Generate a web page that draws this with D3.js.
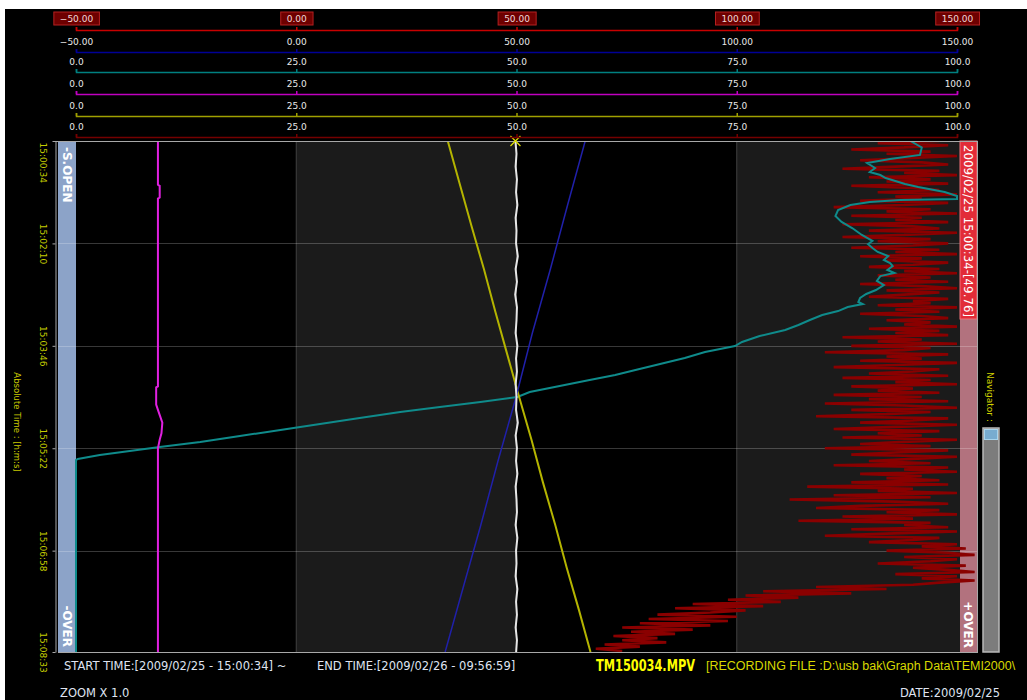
<!DOCTYPE html>
<html><head><meta charset="utf-8">
<script src="https://cdn.jsdelivr.net/npm/d3@7"></script>
<style>
body{margin:0;background:#fff;}
svg{display:block}
</style></head><body>
<svg id="c" width="1027" height="700"></svg>
<script>
// ---------------- DATA ----------------
const startDate = "2009/02/25";
const timeTickSeconds = [0, 96, 192, 288, 384, 479];
const timeTickLabels = ["15:00:34", "15:02:10", "15:03:46", "15:05:22", "15:06:58", "15:08:33"];
const ticksWide = [-50, 0, 50, 100, 150];
const ticksPct = [0, 25, 50, 75, 100];

// CH1 (white, selected, -50..150) sampled every 12 s
const whiteTime = [0,12,24,36,48,60,72,84,96,108,120,132,144,156,168,180,192,204,216,228,240,252,264,276,288,300,312,324,336,348,360,372,384,396,408,420,432,444,456,468,480];
const whiteValue = [49.76,50.0,49.8,50.1,49.9,50.2,49.8,50.0,49.9,50.3,49.8,50.1,49.7,50.1,50.0,49.8,50.2,49.9,50.1,49.8,50.0,49.9,50.3,49.8,50.1,49.9,50.2,49.8,50.0,50.1,49.8,50.2,49.9,50.0,49.8,50.2,49.9,50.1,49.8,50.1,49.9];

// CH2 (blue, -50..150)
const blueTime = [0, 60, 120, 180, 240, 300, 360, 420, 479];
const blueValue = [65.6, 61.6, 57.7, 53.6, 49.9, 45.8, 41.9, 37.8, 33.8];

// CH3 (teal, 0..100)
const tealTime = [0,6,13.1,16.9,20.6,25.3,29.1,31.9,34.7,37.5,40.3,43.1,47.8,51.6,54.4,55.3,57.2,60.0,64.7,70.3,75.9,81.6,88.1,93.7,96.6,100.3,104.0,107.8,111.5,114.4,117.2,120.9,123.7,126.6,131.2,135.0,139.7,143.4,147.2,150.9,152.8,155.6,159.4,163.1,167.8,172.5,177.2,182.8,188.4,192.2,197.8,203.4,209.0,214.7,219.3,224.0,229.7,235.3,240.0,244.7,249.4,254.0,259.7,265.3,270.9,276.5,282.2,286.8,290.6,294.3,298.1,299.0,300,479];
const tealValue = [94.7,96.0,95.8,92.4,89.8,90.7,90.1,91.3,91.9,93.0,94.1,95.6,98.6,101.5,101.0,93.5,90.1,87.9,86.5,86.2,86.9,88.1,89.2,90.4,89.9,90.4,91.0,92.2,91.7,92.4,92.7,92.1,92.9,91.3,90.9,91.7,90.8,89.7,89.0,88.8,89.3,87.6,86.5,84.7,83.3,82.0,80.5,77.6,75.6,74.8,71.4,69.1,66.3,63.5,61.2,58.3,54.9,51.5,50.1,45.9,41.3,36.8,32.2,27.7,23.2,18.6,14.1,9.5,6.1,2.7,0.2,-0.5,-3,-3];

// CH4 (magenta, 0..100)
const magentaTime = [0, 41, 42, 53, 54, 230, 231, 247, 252, 264, 274, 280, 288, 479];
const magentaValue = [9.3, 9.3, 9.5, 9.5, 9.3, 9.3, 9.1, 9.1, 9.3, 9.8, 9.7, 9.5, 9.3, 9.3];

// CH5 (yellow, 0..100)
const yellowTime = [0, 40, 80, 120, 160, 200, 240, 280, 320, 360, 400, 440, 479];
const yellowValue = [42.2, 43.55, 44.9, 46.3, 47.6, 48.95, 50.3, 51.7, 53.0, 54.4, 55.7, 57.1, 58.4];

// CH6 (dark red, 0..100) sampled every 2 s
const redValue = [
 98,91,99,94,88,97,92,100,95,89,96,99,93,87,98,94,100,90,97,92,99,88,95,98,91,100,93,96,
 89,99,94,86,97,92,100,88,96,93,99,87,95,98,90,100,94,87,97,91,99,95,88,98,93,100,89,96,
 92,99,95,90,98,94,100,91,97,93,99,89,96,100,92,98,94,90,99,95,97,91,100,93,98,89,96,99,92,97,94,100,90,98,
 93,99,87,96,91,100,88,97,94,85,99,92,96,89,100,93,86,98,95,90,99,87,97,93,100,88,95,91,98,86,
 96,90,99,85,94,100,88,97,92,84,99,95,89,100,93,86,98,91,96,87,100,94,89,97,85,
 99,93,88,100,95,90,97,86,99,94,100,89,96,92,98,
 88,99,83,95,91,100,86,97,81,93,99,89,84,98,92,100,87,95,82,97,
 94,99,88,100,92,85,98,95,90,100,
 96,101,92,99,102,94,100,97,91,101,95,99,102,93,100,96,102,98,
 95,84,92,78,88,76,
 82,74,80,70,78,68,76,72,66,75,65,
 74,64,72,62,70,63,68,61,66,62,67,60,64,59,62
];
const redStep = 2;

// ---------------- DRAW ----------------
const svg = d3.select('#c');
const W = 1027, H = 700;
const FONT = "DejaVu Sans, Verdana, sans-serif";
svg.append('rect').attr('x', 5).attr('y', 9).attr('width', W - 5).attr('height', H - 9).attr('fill', '#000');

const plotL = 58, plotR = 977, dataL = 76, dataR = 957, plotT = 141, plotB = 652;
const xWide = d3.scaleLinear().domain([-50, 150]).range([dataL, dataR]);
const xPct = d3.scaleLinear().domain([0, 100]).range([dataL, dataR]);
const xPctClamp = xPct.copy().clamp(true);
const yT = d3.scaleLinear().domain([0, 479]).range([plotT, plotB]);

// background bands
for (let i = 0; i < ticksWide.length - 1; i++) {
  const x0 = xWide(ticksWide[i]);
  const x1 = i === ticksWide.length - 2 ? 960 : xWide(ticksWide[i + 1]);
  svg.append('rect').attr('x', x0).attr('y', plotT).attr('width', x1 - x0).attr('height', plotB - plotT)
    .attr('fill', i % 2 ? '#1b1b1b' : '#000');
}
svg.append('rect').attr('x', plotL).attr('y', plotT).attr('width', dataL - plotL).attr('height', plotB - plotT).attr('fill', '#8ca3c8');
svg.append('rect').attr('x', 960).attr('y', plotT).attr('width', plotR - 960).attr('height', plotB - plotT).attr('fill', '#b2727e');

// grid
ticksWide.slice(1, -1).forEach(v => {
  svg.append('line').attr('x1', xWide(v)).attr('x2', xWide(v)).attr('y1', plotT).attr('y2', plotB)
    .attr('stroke', '#404040').attr('stroke-width', 1);
});
timeTickSeconds.slice(1, -1).forEach(t => {
  svg.append('line').attr('x1', plotL).attr('x2', plotR).attr('y1', Math.round(yT(t)) + 0.5).attr('y2', Math.round(yT(t)) + 0.5)
    .attr('stroke', 'rgba(255,255,255,0.22)').attr('stroke-width', 1);
});

// series
svg.append('clipPath').attr('id', 'pc').append('rect')
  .attr('x', dataL - 1).attr('y', plotT).attr('width', plotR - dataL + 1).attr('height', plotB - plotT);
const series = svg.append('g').attr('clip-path', 'url(#pc)');
function path(ts, vs, xs) {
  return d3.line().x((d, i) => xs(vs[i])).y((d, i) => yT(ts[i]))(ts);
}
const redTime = redValue.map((d, i) => i * redStep);
series.append('path').attr('d', path(redTime, redValue, xPct)).attr('fill', 'none').attr('stroke', '#8a0000').attr('stroke-width', 2.6).attr('stroke-linejoin', 'bevel');
series.append('path').attr('d', path(tealTime, tealValue, xPctClamp)).attr('fill', 'none').attr('stroke', '#0f8b8b').attr('stroke-width', 2);
series.append('path').attr('d', path(magentaTime, magentaValue, xPct)).attr('fill', 'none').attr('stroke', '#e020e0').attr('stroke-width', 2);
series.append('path').attr('d', path(yellowTime, yellowValue, xPct)).attr('fill', 'none').attr('stroke', '#b4b400').attr('stroke-width', 2);
series.append('path').attr('d', path(blueTime, blueValue, xWide)).attr('fill', 'none').attr('stroke', '#2020aa').attr('stroke-width', 1.5);
series.append('path').attr('d', path(whiteTime, whiteValue, xWide)).attr('fill', 'none').attr('stroke', '#e6e6e6').attr('stroke-width', 2);

// band texts
function vtext(x, y, txt, opts) {
  const t = svg.append('text').attr('transform', `translate(${x},${y}) rotate(90)`).attr('dy', '0.36em')
    .attr('font-family', FONT).attr('font-size', opts.size || 12).attr('fill', opts.fill || '#fff')
    .attr('font-weight', opts.weight || 'normal').attr('text-anchor', opts.anchor || 'start').text(txt);
  if (opts.len) t.attr('textLength', opts.len).attr('lengthAdjust', 'spacingAndGlyphs');
  return t;
}
vtext(67, 147, '-S.OPEN', {weight: 'bold', size: 12});
vtext(67, 647, '-OVER', {weight: 'bold', size: 12, anchor: 'end'});
vtext(968.5, 648, '+OVER', {weight: 'bold', size: 12, anchor: 'end'});
svg.append('rect').attr('x', 960).attr('y', plotT).attr('width', 17).attr('height', 178)
  .attr('fill', '#e22c38').attr('stroke', '#f07078').attr('stroke-width', 1);
vtext(968.5, 145, `${startDate} ${timeTickLabels[0]}-[${whiteValue[0].toFixed(2)}]`, {size: 12, len: 172, fill: '#fff'});

// plot borders
svg.append('line').attr('x1', 55).attr('x2', plotR + 1).attr('y1', plotT + 0.5).attr('y2', plotT + 0.5).attr('stroke', '#a8a8a8');
svg.append('line').attr('x1', plotL).attr('x2', plotR + 1).attr('y1', plotB + 0.5).attr('y2', plotB + 0.5).attr('stroke', '#a8a8a8');
svg.append('line').attr('x1', plotR + 0.5).attr('x2', plotR + 0.5).attr('y1', plotT).attr('y2', plotB).attr('stroke', '#a8a8a8');

// cursor marker
const cx = xWide(whiteValue[0]);
svg.append('path').attr('d', `M${cx - 5},${plotT - 5}L${cx + 5},${plotT + 5}M${cx + 5},${plotT - 5}L${cx - 5},${plotT + 5}`)
  .attr('stroke', '#e0e000').attr('stroke-width', 1.2).attr('fill', 'none');

// top axes
const axisRows = [
  {scale: xWide, ticks: ticksWide, fmt: '.2f', color: '#c80000', y: 30, boxed: true},
  {scale: xWide, ticks: ticksWide, fmt: '.2f', color: '#000096', y: 52},
  {scale: xPct, ticks: ticksPct, fmt: '.1f', color: '#008080', y: 72},
  {scale: xPct, ticks: ticksPct, fmt: '.1f', color: '#c000c0', y: 94},
  {scale: xPct, ticks: ticksPct, fmt: '.1f', color: '#a0a000', y: 116},
  {scale: xPct, ticks: ticksPct, fmt: '.1f', color: '#740000', y: 137}
];
axisRows.forEach(r => {
  const g = svg.append('g').attr('transform', `translate(0,${r.y})`)
    .call(d3.axisTop(r.scale).tickValues(r.ticks).tickFormat(d3.format(r.fmt)).tickSizeInner(3).tickSizeOuter(3).tickPadding(5));
  g.attr('font-family', FONT).attr('font-size', 9);
  g.select('.domain').attr('stroke', r.color).attr('stroke-width', 1.5);
  g.selectAll('.tick line').attr('stroke', r.color).attr('stroke-width', 1.5);
  g.selectAll('.tick text').attr('fill', '#e8e8e8').attr('y', -7.5).attr('dy', 0);
  if (r.boxed) {
    g.selectAll('.tick').each(function () {
      const tk = d3.select(this);
      const bb = tk.select('text').node().getBBox();
      tk.insert('rect', 'text').attr('x', bb.x - 6).attr('y', -18).attr('width', bb.width + 12).attr('height', 13)
        .attr('fill', '#6e0000').attr('stroke', '#b42020').attr('stroke-width', 1);
    });
    g.selectAll('.tick text').attr('fill', '#f0d8d8').attr('y', -8);
  }
});

// left time axis
const ya = svg.append('g').attr('transform', 'translate(55.5,0)')
  .call(d3.axisLeft(yT).tickValues(timeTickSeconds).tickFormat((d, i) => timeTickLabels[i]).tickSizeInner(3).tickSizeOuter(0));
ya.attr('font-family', FONT).attr('font-size', 9);
ya.select('.domain').attr('stroke', '#a8a8a8');
ya.selectAll('.tick line').attr('stroke', '#a8a8a8');
ya.selectAll('.tick text').attr('x', 0).attr('dy', '0.36em').attr('fill', '#c4cc00')
  .attr('text-anchor', (d, i) => i === 0 ? 'start' : 'middle')
  .attr('transform', (d, i) => i === 0 ? 'translate(-12,1) rotate(90)' : 'translate(-12,0) rotate(90)');
vtext(17, 422, 'Absolute Time : [h:m:s]', {size: 8.5, fill: '#c8c800', anchor: 'middle'});

// navigator
vtext(990, 372, 'Navigator :', {size: 9, fill: '#d0d000'});
svg.append('rect').attr('x', 983).attr('y', 428).attr('width', 16).attr('height', 224)
  .attr('fill', '#7c7c7c').attr('stroke', '#b8b8b8').attr('stroke-width', 1.5);
svg.append('rect').attr('x', 984.5).attr('y', 429.5).attr('width', 13).attr('height', 10)
  .attr('fill', '#78acd0').attr('stroke', '#a8d4ec').attr('stroke-width', 1);

// bottom texts
function btext(x, y, txt, fill, opts = {}) {
  const t = svg.append('text').attr('x', x).attr('y', y).attr('font-family', opts.family || FONT)
    .attr('font-size', opts.size || 11.5).attr('fill', fill).attr('font-weight', opts.weight || 'normal')
    .attr('text-anchor', opts.anchor || 'start').text(txt);
  if (opts.len) t.attr('textLength', opts.len).attr('lengthAdjust', 'spacingAndGlyphs');
  return t;
}
btext(64, 670, 'START TIME:[2009/02/25 - 15:00:34] ~', '#dfe3f0');
btext(317, 670, 'END TIME:[2009/02/26 - 09:56:59]', '#dfe3f0');
btext(596, 671, 'TM150034.MPV', '#ffff00', {weight: 'bold', size: 16, len: 99, family: 'Liberation Sans Narrow, DejaVu Sans Condensed, sans-serif'});
btext(706, 670, '[RECORDING FILE :D:\\usb bak\\Graph Data\\TEMI2000\\', '#d8d800', {size: 12.5, family: 'Liberation Sans, Arial, sans-serif'});
btext(60, 697, 'ZOOM X 1.0', '#dfe3f0');
btext(1000, 697, 'DATE:2009/02/25', '#dfe3f0', {anchor: 'end'});
</script>
</body></html>
